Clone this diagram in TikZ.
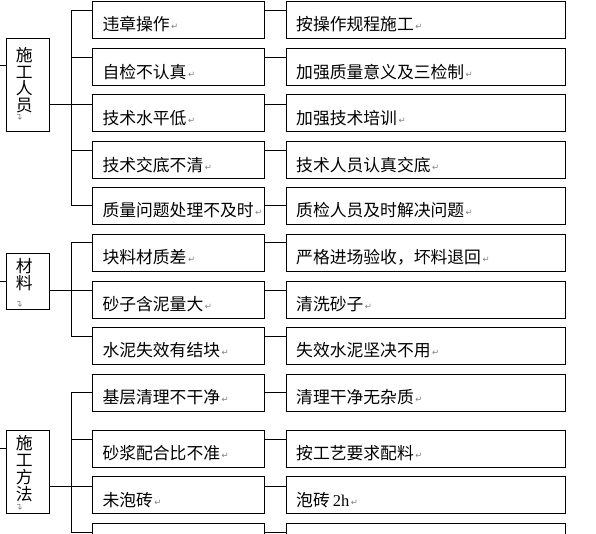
\documentclass[tikz,border=0pt]{standalone}
\usepackage{fontspec}
\setmainfont{Noto Sans CJK SC}
\newfontfamily\djv{DejaVu Sans}
\newfontfamily\tnr{Liberation Serif}
\usetikzlibrary{calc}
\tikzset{
  link/.style={line width=1pt, draw=black},
  box/.style={draw, line width=1pt, minimum width=172pt, minimum height=37pt, inner sep=0pt, outer sep=0pt, anchor=north west},
  rbox/.style={box, minimum width=279.2pt},
  cbox/.style={draw, line width=1pt, minimum width=43.4pt, inner sep=0pt, outer sep=0pt, anchor=north west},
  txt/.style={anchor=base west, inner sep=0pt, font=\fontsize{16.8}{20}\selectfont},
  ctxt/.style={anchor=base, inner sep=0pt, font=\fontsize{16.8}{20}\selectfont},
  pmark/.style={inner sep=0pt, text=gray, font=\djv\fontsize{9}{9}\selectfont, rotate=90},
}
\newcommand\pmk{\hspace{1.5pt}\raisebox{1pt}{\djv\fontsize{8.5}{8.5}\selectfont\textcolor{gray}{↵}}}
\newcommand\mkrow[5]{%
  \node[box] (L#1) at (92.3,#2) {};
  \node[rbox] (R#1) at (286.3,#2) {};
  \node[txt] (Lt#1) at (102.3,#2+29.5) {#4\pmk};
  \node[txt] (Rt#1) at (296,#2+29.5) {#5\pmk};
  \coordinate (b#1) at ([yshift=-#3pt]L#1.north west);
  \draw[link] ([yshift=-#3pt]L#1.north east) -- ([yshift=-#3pt]R#1.north west);
}
% vertical text: name, x, first baseline, pitch, chars
\newcommand\vtext[5]{%
  \foreach \c [count=\i from 0] in {#5} {
    \node[ctxt] (#1-\i) at (#2,#3+#4*\i) {\c};
  }%
}
\begin{document}
\begin{tikzpicture}[x=1pt,y=-1pt]
\useasboundingbox (0,0) rectangle (596,533);
\clip (0,0) rectangle (596,533);

% rows
\mkrow{1}{1.3}{8.7}{违章操作}{按操作规程施工}
\mkrow{2}{48.7}{8.3}{自检不认真}{加强质量意义及三检制}
\mkrow{3}{94.7}{9.3}{技术水平低}{加强技术培训}
\mkrow{4}{141.7}{9}{技术交底不清}{技术人员认真交底}
\mkrow{5}{187.3}{18.4}{质量问题处理不及时}{质检人员及时解决问题}
\mkrow{6}{234.3}{8.4}{块料材质差}{严格进场验收，坏料退回}
\mkrow{7}{281.3}{8.7}{砂子含泥量大}{清洗砂子}
\mkrow{8}{327.3}{8.7}{水泥失效有结块}{失效水泥坚决不用}
\mkrow{9}{374.3}{18.4}{基层清理不干净}{清理干净无杂质}
\mkrow{10}{430.3}{9}{砂浆配合比不准}{按工艺要求配料}
\mkrow{11}{476.7}{10}{未泡砖}{泡砖\hspace{3pt}{\tnr\fontsize{16.5}{16}\selectfont 2h}}
\node[box] (L12) at (92.3,523.3) {};
\node[rbox] (R12) at (286.3,523.3) {};
\coordinate (b12) at ([yshift=-9pt]L12.north west);
\draw[link] ([yshift=-9pt]L12.north east) -- ([yshift=-9pt]R12.north west);

% category boxes
\node[cbox, minimum height=93pt] (C1) at (6.3,38.3) {};
\node[cbox, minimum height=56pt] (C2) at (6.3,253.3) {};
\node[cbox, minimum height=83pt] (C3) at (6.3,430.3) {};
\vtext{C1t}{24.2}{61.5}{16.7}{施,工,人,员}
\vtext{C2t}{24.2}{272.8}{16.8}{材,料}
\vtext{C3t}{24.2}{449.5}{17}{施,工,方,法}
\node[pmark] (m1) at (20,116.7) {↵};
\node[pmark] (m2) at (20,303.3) {↵};
\node[pmark] (m3) at (20,506.7) {↵};

% left stubs
\coordinate (s1) at (0,65.3);
\coordinate (s2) at (0,281.7);
\coordinate (s3) at (0,448.3);
\draw[link] (s1) -- (s1 -| C1.west);
\draw[link] (s2) -- (s2 -| C2.west);
\draw[link] (s3) -- (s3 -| C3.west);

% group 1
\draw[link] (b1) -- ++(-20.6,0) |- (b5);
\draw[link] (b2) -- ++(-20.6,0);
\draw[link] (b4) -- ++(-20.6,0);
\draw[link] (b3) -- (C1.east |- b3);
% group 2
\draw[link] (b6) -- ++(-20.6,0) |- (b8);
\draw[link] (b7) -- (C2.east |- b7);
% group 3
\draw[link] (b9) -- ++(-20.6,0) |- (b12);
\draw[link] (b10) -- ++(-20.6,0);
\draw[link] (b11) -- (C3.east |- b11);
\end{tikzpicture}
\end{document}
